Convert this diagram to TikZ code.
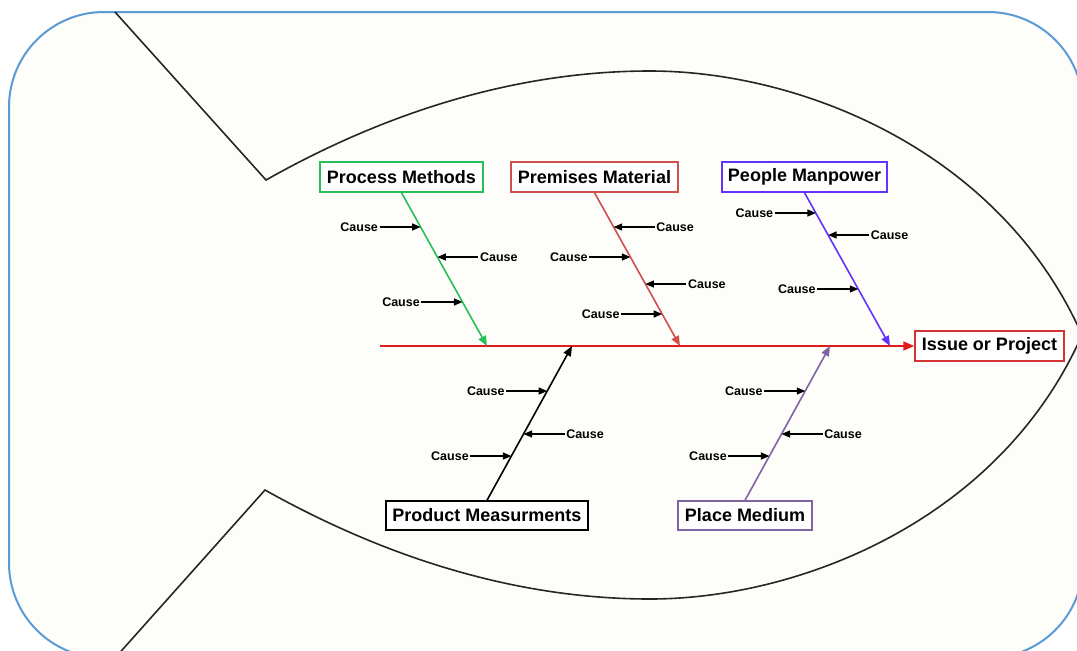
\documentclass[tikz,border=0pt]{standalone}
\usepackage{fontspec}
\setmainfont{Liberation Sans}
\usetikzlibrary{arrows.meta}

\definecolor{frameblue}{RGB}{91,155,213}
\definecolor{paper}{RGB}{253,253,249}
\definecolor{spinered}{RGB}{226,28,28}
\definecolor{issuered}{RGB}{214,52,52}
\definecolor{methgreen}{RGB}{40,190,90}
\definecolor{matred}{RGB}{206,80,78}
\definecolor{manblue}{RGB}{100,50,255}
\definecolor{medpurple}{RGB}{128,100,162}

\begin{document}
\begin{tikzpicture}[x=1pt,y=-1pt,
  outline/.style={line width=1.6pt, black!85, line join=miter},
  catbox/.style={draw, line width=1.4pt, fill=white, inner sep=0pt,
    font=\fontsize{18}{21}\selectfont\bfseries, minimum height=30pt},
  bone/.style={line width=1.6pt, -{Triangle[length=10pt,width=8pt]}},
  cause/.style={font=\fontsize{12.5}{14}\selectfont\bfseries, inner sep=1.5pt},
  causearrow/.style={line width=1.3pt, -{Triangle[length=8.5pt,width=7pt]}},
]
\useasboundingbox (0,0) rectangle (1077,651);
\fill[white] (0,0) rectangle (1077,651);
\clip (0,0) rectangle (1077,651);

% frame
\draw[frameblue, line width=2pt, fill=paper, rounded corners=95pt]
  (9,12) rectangle (1083,658);

% fish outline: tail and body
\draw[outline] (115,12) -- (266,180)
  .. controls (390,110) and (520,71) .. (650,71)
  .. controls (800,71) and (1000,150) .. (1082,335)
  .. controls (1000,520) and (800,599) .. (650,599)
  .. controls (520,599) and (390,560) .. (265,490)
  -- (115,658);

% category boxes
\node[catbox, draw=methgreen, minimum width=163pt] (meth) at (401.5,177) {Process Methods};
\node[catbox, draw=matred, minimum width=167pt] (mat) at (594.5,177) {Premises Material};
\node[catbox, draw=manblue, minimum width=165pt] (man) at (804.5,177) {People Manpower};
\node[catbox, draw=issuered, minimum width=149pt] (issue) at (989.5,346) {Issue or Project};
\node[catbox, draw=black, minimum width=202pt, minimum height=29pt] (meas) at (487,515.5) {Product Measurments};
\node[catbox, draw=medpurple, minimum width=134pt, minimum height=29pt] (med) at (745,515.5) {Place Medium};

% spine
\coordinate (head) at (380,346);
\draw[line width=1.6pt, spinered, -{Triangle[length=11pt,width=9pt]}] (head) -- (issue.west);

% bones
\coordinate (t1) at (487,346);
\coordinate (t2) at (680,346);
\coordinate (t3) at (890,346);
\coordinate (t4) at (572,346);
\coordinate (t5) at (830,346);
\draw[bone, methgreen] (meth.south) -- (t1);
\draw[bone, matred] (mat.south) -- (t2);
\draw[bone, manblue] (man.south) -- (t3);
\draw[bone, black] (meas.north) -- (t4);
\draw[bone, medpurple] (med.north) -- (t5);

% cause points on the bones
\coordinate (p11) at (intersection of meth.south--t1 and 0,227--1000,227);
\coordinate (p12) at (intersection of meth.south--t1 and 0,257--1000,257);
\coordinate (p13) at (intersection of meth.south--t1 and 0,302--1000,302);
\coordinate (p21) at (intersection of mat.south--t2 and 0,227--1000,227);
\coordinate (p22) at (intersection of mat.south--t2 and 0,257--1000,257);
\coordinate (p23) at (intersection of mat.south--t2 and 0,284--1000,284);
\coordinate (p24) at (intersection of mat.south--t2 and 0,314--1000,314);
\coordinate (p31) at (intersection of man.south--t3 and 0,213--1000,213);
\coordinate (p32) at (intersection of man.south--t3 and 0,235--1000,235);
\coordinate (p33) at (intersection of man.south--t3 and 0,289--1000,289);
\coordinate (p41) at (intersection of meas.north--t4 and 0,391--1000,391);
\coordinate (p42) at (intersection of meas.north--t4 and 0,434--1000,434);
\coordinate (p43) at (intersection of meas.north--t4 and 0,456--1000,456);
\coordinate (p51) at (intersection of med.north--t5 and 0,391--1000,391);
\coordinate (p52) at (intersection of med.north--t5 and 0,434--1000,434);
\coordinate (p53) at (intersection of med.north--t5 and 0,456--1000,456);

% causes on the left of a bone
\foreach \p in {p11,p13,p22,p24,p31,p33,p41,p43,p51,p53}{
  \node[cause, anchor=east] (c\p) at ([xshift=-41pt]\p) {Cause};
  \draw[causearrow] (c\p.east) -- (\p);
}
% causes on the right of a bone
\foreach \p in {p12,p21,p23,p32,p42,p52}{
  \node[cause, anchor=west] (c\p) at ([xshift=41pt]\p) {Cause};
  \draw[causearrow] (c\p.west) -- (\p);
}
\end{tikzpicture}
\end{document}
